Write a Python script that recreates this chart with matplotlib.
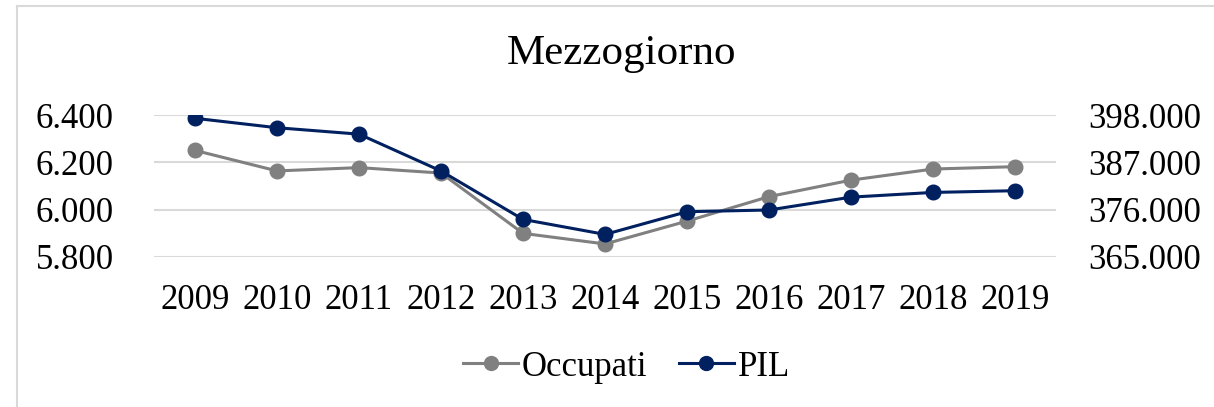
import matplotlib
matplotlib.use("Agg")
import matplotlib.pyplot as plt
from matplotlib.lines import Line2D
from matplotlib.ticker import FuncFormatter

plt.rcParams['font.family'] = ['Liberation Serif', 'DejaVu Serif']

anni = ['2009', '2010', '2011', '2012', '2013', '2014', '2015', '2016', '2017', '2018', '2019']
occupati = [6251, 6164, 6178, 6155, 5899, 5854, 5951, 6055, 6125, 6172, 6182]
pil = [397300, 395100, 393600, 385000, 373700, 370200, 375500, 375900, 378900, 380000, 380400]

left_ticks = [5800, 6000, 6200, 6400]
right_ticks = [365000, 376000, 387000, 398000]

grigio = '#808080'
blu = '#002060'
griglia = '#D9D9D9'


def punto(v, pos=None):
    return '{:,.0f}'.format(v).replace(',', '.')


fig = plt.figure(figsize=(12.14, 4.07), dpi=100)
ax = fig.add_axes([0.1269, 0.3693, 0.7430, 0.3474])
ax2 = ax.twinx()

x = list(range(len(anni)))
ax.plot(x, occupati, color=grigio, lw=2.2, marker='o', ms=10.5, zorder=3)
ax2.plot(x, pil, color=blu, lw=2.2, marker='o', ms=10.5, zorder=3)

ax.set_xlim(-0.5, len(anni) - 0.5)
ax.set_ylim(5800, 6400)
ax2.set_ylim(365000, 398000)
ax.set_yticks(left_ticks)
ax2.set_yticks(right_ticks)
ax.yaxis.set_major_formatter(FuncFormatter(punto))
ax2.yaxis.set_major_formatter(FuncFormatter(punto))
ax.set_xticks(x)
ax.set_xticklabels(anni)

ax.grid(axis='y', color=griglia, lw=1.5)
ax.set_axisbelow(True)
for a in (ax, ax2):
    for s in a.spines.values():
        s.set_visible(False)
    a.tick_params(length=0, labelsize=25, colors='black')
ax.tick_params(axis='y', pad=29)
ax2.tick_params(axis='y', pad=23)
ax.tick_params(axis='x', pad=20)

fig.text(0.512, 0.868, 'Mezzogiorno', ha='center', va='center', fontsize=31)

handles = [Line2D([], [], color=grigio, lw=2.2, marker='o', ms=10),
           Line2D([], [], color=blu, lw=2.2, marker='o', ms=10)]
fig.legend(handles, ['Occupati', 'PIL'], loc='center', bbox_to_anchor=(0.516, 0.098),
           ncol=2, frameon=False, fontsize=25, handlelength=1.6, handletextpad=0.1,
           columnspacing=0.9)

# cornice del grafico
fig.add_artist(Line2D([17 / 1214, 1], [1 - 6 / 407, 1 - 6 / 407], color=griglia, lw=1.5))
fig.add_artist(Line2D([17 / 1214, 17 / 1214], [0, 1 - 6 / 407], color=griglia, lw=1.5))

fig.savefig('out.png', dpi=100)
